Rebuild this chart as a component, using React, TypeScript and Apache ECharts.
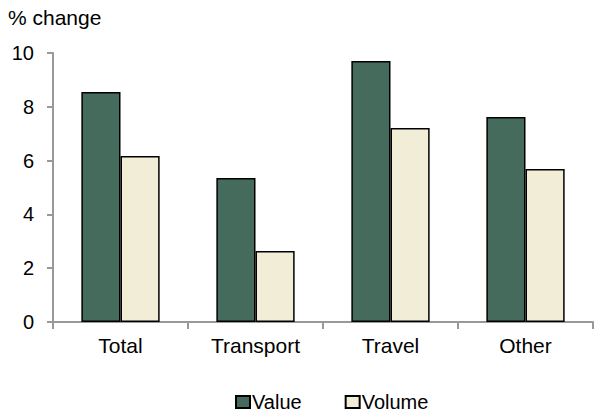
import React, { useEffect, useRef } from "react";
import * as echarts from "echarts";

const categories = ["Total", "Transport", "Travel", "Other"];
const valueSeries = [8.55, 5.35, 9.7, 7.62];
const volumeSeries = [6.17, 2.64, 7.21, 5.69];
const yTicks = [0, 2, 4, 6, 8, 10];

export default function App() {
  const ref = useRef<HTMLDivElement>(null);
  useEffect(() => {
    const chart = echarts.init(ref.current!, null, { renderer: "svg" });
    const font = "'Liberation Sans', Arial, sans-serif";
    chart.setOption({
      animation: false,
      textStyle: { fontFamily: font },
      graphic: [
        {
          type: "text",
          left: 8,
          top: 7,
          style: { text: "% change", font: `21px ${font}`, fill: "#000" },
        },
      ],
      legend: {
        top: 392,
        left: 235,
        padding: 0,
        itemWidth: 14,
        itemHeight: 12,
        itemGap: 43,
        textStyle: { fontSize: 20, lineHeight: 20, color: "#000", fontFamily: font, padding: [0, 0, 0, -3] },
        data: [
          { name: "Value", icon: "rect" },
          { name: "Volume", icon: "rect" },
        ],
      },
      grid: { left: 53, right: 1, top: 53, bottom: 92 },
      xAxis: {
        type: "category",
        data: categories,
        axisLine: { lineStyle: { color: "#999", width: 2 } },
        axisTick: { show: true, length: 7, lineStyle: { color: "#999", width: 2 } },
        axisLabel: { fontSize: 21, color: "#000", margin: 13, fontFamily: font },
      },
      yAxis: {
        type: "value",
        min: yTicks[0],
        max: yTicks[yTicks.length - 1],
        interval: 2,
        splitLine: { show: false },
        axisLine: { show: true, lineStyle: { color: "#999", width: 2 } },
        axisTick: { show: true, length: 6, lineStyle: { color: "#999", width: 2 } },
        axisLabel: { fontSize: 20, color: "#000", margin: 19, fontFamily: font },
      },
      series: [
        {
          name: "Value",
          type: "bar",
          data: valueSeries,
          barCategoryGap: "42%",
          barGap: "0%",
          itemStyle: { color: "#446B5B", borderColor: "#000", borderWidth: 1.5 },
        },
        {
          name: "Volume",
          type: "bar",
          data: volumeSeries,
          barCategoryGap: "42%",
          barGap: "0%",
          itemStyle: { color: "#F2EDD7", borderColor: "#000", borderWidth: 1.5 },
        },
      ],
    });
    return () => chart.dispose();
  }, []);
  return <div ref={ref} style={{ width: 594, height: 414, position: "absolute", left: 0, top: 0 }} />;
}
